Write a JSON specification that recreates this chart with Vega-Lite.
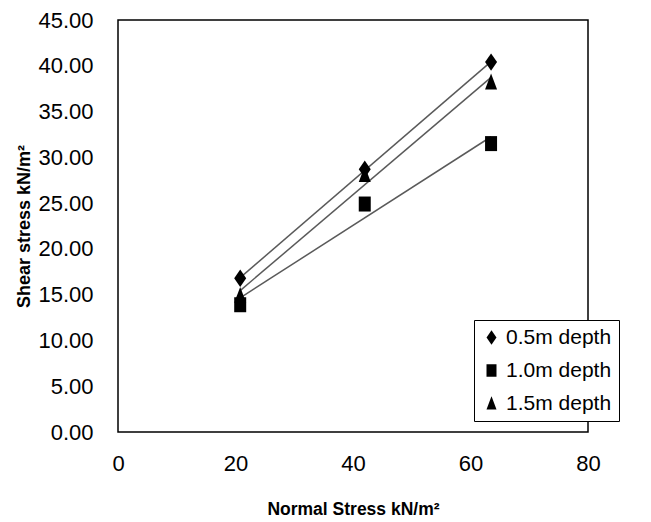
{
  "$schema": "https://vega.github.io/schema/vega-lite/v6.json",
  "width": 470,
  "height": 412,
  "autosize": {"type": "none"},
  "padding": {"left": 118, "top": 20, "right": 63, "bottom": 90},
  "background": "white",
  "config": {
    "view": {"stroke": "black", "strokeWidth": 1.5},
    "font": "Liberation Sans, Arial, sans-serif"
  },
  "data": {
    "values": [
      {"series": "0.5m depth", "normal": 20.8, "shear": 16.8},
      {"series": "0.5m depth", "normal": 42.0, "shear": 28.7},
      {"series": "0.5m depth", "normal": 63.5, "shear": 40.4},
      {"series": "1.0m depth", "normal": 20.8, "shear": 13.9},
      {"series": "1.0m depth", "normal": 42.0, "shear": 24.9},
      {"series": "1.0m depth", "normal": 63.5, "shear": 31.5},
      {"series": "1.5m depth", "normal": 20.8, "shear": 14.9},
      {"series": "1.5m depth", "normal": 42.0, "shear": 28.1},
      {"series": "1.5m depth", "normal": 63.5, "shear": 38.2}
    ]
  },
  "layer": [
    {
      "transform": [
        {"regression": "shear", "on": "normal", "groupby": ["series"]}
      ],
      "mark": {"type": "line", "color": "#5a5a5a", "strokeWidth": 1.5},
      "encoding": {
        "x": {"field": "normal", "type": "quantitative"},
        "y": {"field": "shear", "type": "quantitative"},
        "detail": {"field": "series"}
      }
    },
    {
      "mark": {"type": "point", "filled": true, "color": "black", "opacity": 1, "size": 144},
      "encoding": {
        "x": {
          "field": "normal",
          "type": "quantitative",
          "scale": {"domain": [0, 80], "nice": false},
          "axis": {
            "values": [0, 20, 40, 60, 80],
            "domain": false,
            "ticks": false,
            "grid": false,
            "labelFlush": false,
            "labelFontSize": 22,
            "labelColor": "black",
            "labelPadding": 21,
            "title": "Normal Stress kN/m²",
            "titleFontSize": 17.5,
            "titleFontWeight": "bold",
            "titleColor": "black",
            "titlePadding": 26
          }
        },
        "y": {
          "field": "shear",
          "type": "quantitative",
          "scale": {"domain": [0, 45], "nice": false},
          "axis": {
            "values": [0, 5, 10, 15, 20, 25, 30, 35, 40, 45],
            "format": ".2f",
            "domain": false,
            "ticks": false,
            "grid": false,
            "labelFontSize": 22,
            "labelColor": "black",
            "labelPadding": 25,
            "title": "Shear stress kN/m²",
            "titleFontSize": 18,
            "titleFontWeight": "bold",
            "titleColor": "black",
            "titlePadding": 4
          }
        },
        "shape": {
          "field": "series",
          "type": "nominal",
          "scale": {
            "domain": ["0.5m depth", "1.0m depth", "1.5m depth"],
            "range": ["M0,-1.45L1,0L0,1.45L-1,0Z", "M-1,-1.25L1,-1.25L1,1.25L-1,1.25Z", "M0,-1.45L1,1.2L-1,1.2Z"]
          },
          "legend": {
            "title": null,
            "orient": "none",
            "legendX": 356,
            "legendY": 300,
            "strokeColor": "black",
            "fillColor": "white",
            "padding": 7,
            "labelFontSize": 21,
            "labelColor": "black",
            "symbolFillColor": "black",
            "symbolStrokeColor": "black",
            "symbolSize": 100,
            "rowPadding": 11,
            "labelOffset": 4,
            "encode": {"legend": {"update": {"strokeWidth": {"value": 2}}}}
          }
        }
      }
    }
  ]
}
